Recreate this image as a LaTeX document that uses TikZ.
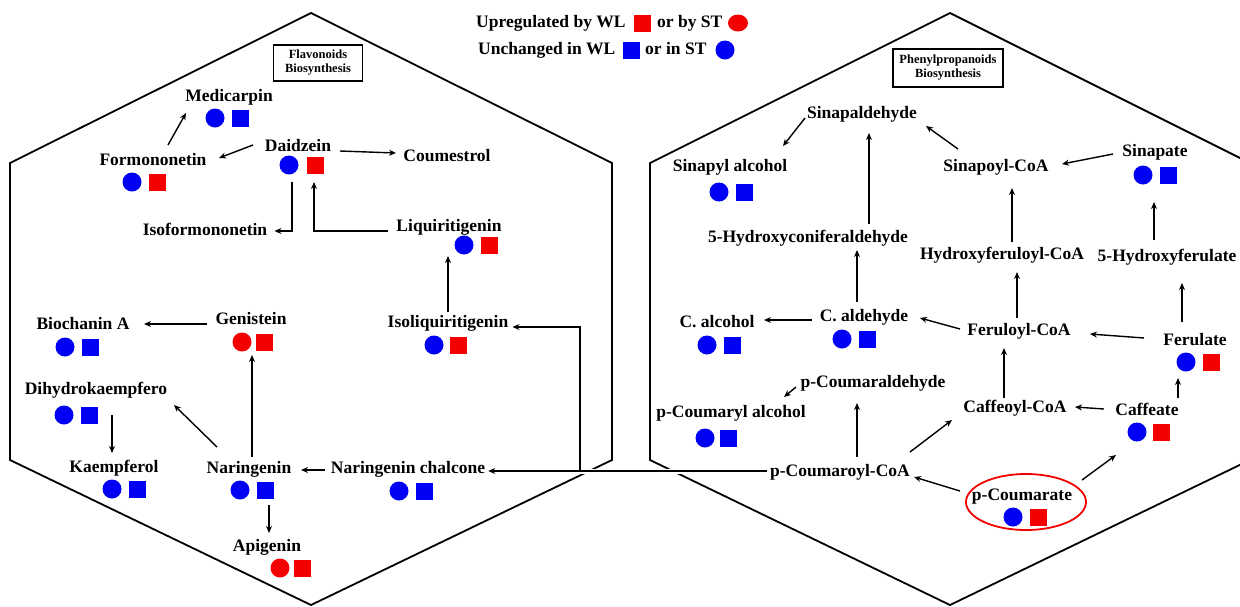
\documentclass[tikz,border=0pt]{standalone}
\usepackage{fontspec}
\setmainfont{Liberation Serif}
\usetikzlibrary{arrows.meta,calc,shapes.geometric}
\definecolor{mblue}{RGB}{0,0,245}
\definecolor{mred}{RGB}{245,0,0}
\tikzset{
 lbl/.style={font=\fontsize{17.5}{20}\selectfont\bfseries, inner sep=0pt, text height=12pt, text depth=4pt},
 mk/.style={inner sep=0pt, draw=none},
 bc/.style={mk, circle, fill=mblue, minimum size=19pt},
 rc/.style={mk, circle, fill=mred, minimum size=19pt},
 bs/.style={mk, rectangle, fill=mblue, minimum size=17pt},
 rs/.style={mk, rectangle, fill=mred, minimum size=17pt},
 arr/.style={-{Stealth[length=7pt,width=6pt]}, line width=1.4pt},
 hex/.style={line width=1.8pt, line join=miter},
 titlebox/.style={draw, line width=1.2pt, font=\fontsize{12.5}{14}\selectfont\bfseries, align=center, inner sep=3pt},
}
\begin{document}
\begin{tikzpicture}[x=1pt,y=-1pt]
\useasboundingbox (0,0) rectangle (1240,606);
\clip (0,0) rectangle (1240,606);
\fill[white] (0,0) rectangle (1240,606);

% hexagons
\draw[hex] (10,163) -- (311,13) -- (612,163) -- (612,460) -- (311,605) -- (10,460) -- cycle;
\draw[hex] (650,163) -- (950,13) -- (1250,163) -- (1250,460) -- (950,605) -- (650,460) -- cycle;

% legend
\node[lbl, anchor=west] (lg1) at (476,23) {Upregulated by WL};
\node[rs] (lg1s) at (642,23) {};
\node[lbl, anchor=west] (lg1b) at (657,23) {or by ST};
\node[mk, ellipse, fill=mred, minimum width=20pt, minimum height=17pt] (lg1c) at (738,23) {};
\node[lbl, anchor=west] (lg2) at (478,50) {Unchanged in WL};
\node[bs] (lg2s) at (631,50) {};
\node[lbl, anchor=west] (lg2b) at (645,50) {or in ST};
\node[bc] (lg2c) at (725,50) {};

% title boxes
\node[titlebox, minimum width=89pt, minimum height=36pt] (fbox) at (318,63) {Flavonoids\\Biosynthesis};
\node[titlebox, minimum width=110pt, minimum height=38pt] (pbox) at (948,68) {Phenylpropanoids\\Biosynthesis};

% ---------- flavonoids ----------
\node[lbl] (medi) at (229,97) {Medicarpin};
\node[bc] (medi-c) at (215,118) {}; \node[bs] (medi-s) at (240,118) {};
\node[lbl] (form) at (153,161) {Formononetin};
\node[bc] (form-c) at (132,182) {}; \node[rs] (form-s) at (157,182) {};
\node[lbl] (daid) at (298,147) {Daidzein};
\node[bc] (daid-c) at (289,165) {}; \node[rs] (daid-s) at (315,165) {};
\node[lbl] (coum) at (447,157) {Coumestrol};
\node[lbl] (isof) at (205,231) {Isoformononetin};
\node[lbl] (liqu) at (449,227) {Liquiritigenin};
\node[bc] (liqu-c) at (464,245) {}; \node[rs] (liqu-s) at (489,245) {};
\node[lbl] (bioc) at (83,325) {Biochanin A};
\node[bc] (bioc-c) at (65,347) {}; \node[bs] (bioc-s) at (90,347) {};
\node[lbl] (geni) at (251,320) {Genistein};
\node[rc] (geni-c) at (242,342) {}; \node[rs] (geni-s) at (264,342) {};
\node[lbl] (isol) at (448,323) {Isoliquiritigenin};
\node[bc] (isol-c) at (434,345) {}; \node[rs] (isol-s) at (458,345) {};
\node[lbl] (dihy) at (96,390) {Dihydrokaempfero};
\node[bc] (dihy-c) at (64,415) {}; \node[bs] (dihy-s) at (89,415) {};
\node[lbl] (kaem) at (114,468) {Kaempferol};
\node[bc] (kaem-c) at (112,489) {}; \node[bs] (kaem-s) at (137,489) {};
\node[lbl] (nari) at (249,469) {Naringenin};
\node[bc] (nari-c) at (240,490) {}; \node[bs] (nari-s) at (265,490) {};
\node[lbl] (chal) at (408,469) {Naringenin chalcone};
\node[bc] (chal-c) at (399,491) {}; \node[bs] (chal-s) at (424,491) {};
\node[lbl] (apig) at (267,547) {Apigenin};
\node[rc] (apig-c) at (280,568) {}; \node[rs] (apig-s) at (302,568) {};

% ---------- phenylpropanoids ----------
\node[lbl] (sinald) at (862,114) {Sinapaldehyde};
\node[lbl] (sinalc) at (730,167) {Sinapyl alcohol};
\node[bc] (sinalc-c) at (719,192) {}; \node[bs] (sinalc-s) at (744,192) {};
\node[lbl] (sinco) at (996,167) {Sinapoyl-CoA};
\node[lbl] (sinate) at (1155,152) {Sinapate};
\node[bc] (sinate-c) at (1143,175) {}; \node[bs] (sinate-s) at (1168,175) {};
\node[lbl] (hcald) at (808,238) {5-Hydroxyconiferaldehyde};
\node[lbl] (hfco) at (1002,255) {Hydroxyferuloyl-CoA};
\node[lbl] (hfate) at (1167,257) {5-Hydroxyferulate};
\node[lbl] (calc) at (717,323) {C. alcohol};
\node[bc] (calc-c) at (707,345) {}; \node[bs] (calc-s) at (732,345) {};
\node[lbl] (cald) at (864,317) {C. aldehyde};
\node[bc] (cald-c) at (842,339) {}; \node[bs] (cald-s) at (867,339) {};
\node[lbl] (fco) at (1019,331) {Feruloyl-CoA};
\node[lbl] (ferul) at (1195,341) {Ferulate};
\node[bc] (ferul-c) at (1186,362) {}; \node[rs] (ferul-s) at (1211,362) {};
\node[lbl] (pcald) at (873,383) {p-Coumaraldehyde};
\node[lbl] (pcalc) at (731,413) {p-Coumaryl alcohol};
\node[bc] (pcalc-c) at (705,438) {}; \node[bs] (pcalc-s) at (728,438) {};
\node[lbl] (cco) at (1015,408) {Caffeoyl-CoA};
\node[lbl] (caff) at (1147,411) {Caffeate};
\node[bc] (caff-c) at (1137,432) {}; \node[rs] (caff-s) at (1161,432) {};
\node[lbl] (pcco) at (840,472) {p-Coumaroyl-CoA};
\node[lbl] (pcate) at (1022,496) {p-Coumarate};
\node[bc] (pcate-c) at (1013,517) {}; \node[rs] (pcate-s) at (1038,517) {};
\node[draw=mred, line width=1.8pt, ellipse, minimum width=120pt, minimum height=56pt] (pring) at (1026,502) {};

% ---------- connectors: flavonoids ----------
\draw[arr] ($(form)+(15,-16)$) -- ($(medi)+(-43,16)$);
\draw[arr] ($(daid)+(-45,-2)$) -- ($(form)+(66,-3)$);
\draw[arr] ($(daid)+(42,4)$) -- ($(coum)+(-51,-4)$);
\draw[arr] ($(daid)+(-6,35)$) |- ($(isof.east)+(7,0)$);
\draw[arr] ($(liqu.west)+(-8,4)$) -| ($(daid)+(16,35)$);
\draw[arr] ($(geni)+(-44,4)$) -- ($(bioc)+(61,-1)$);
\draw[arr] ($(nari)+(3,-12)$) -- ($(geni)+(1,35)$);
\draw[arr] ($(nari)+(-32,-22)$) -- ($(dihy)+(78,15)$);
\draw[arr] ($(dihy)+(16,25)$) -- ($(kaem)+(-2,-15)$);
\draw[arr] ($(chal)+(-83,1)$) -- ($(nari)+(52,1)$);
\draw[arr] ($(nari)+(20,36)$) -- ($(apig)+(2,-14)$);
\draw[arr] ($(isol)+(0,-11)$) -- ($(liqu)+(-1,29)$);

% long connector from p-Coumaroyl-CoA
\draw[arr, preaction={draw=white, line width=5pt, arrows=-}] ($(pcco.west)+(-3,-1)$) -- ($(chal.east)+(3,2)$);
\coordinate (br) at (580,471);
\draw[arr] (br) |- ($(isol.east)+(4,4)$);

% ---------- connectors: phenylpropanoids ----------
\draw[arr] ($(sinald)+(-57,4)$) -- ($(sinalc)+(53,-21)$);
\draw[arr] ($(sinco)+(-38,-18)$) -- ($(sinald)+(64,12)$);
\draw[arr] ($(sinate)+(-42,2)$) -- ($(sinco)+(66,-3)$);
\draw[arr] ($(hcald)+(61,-14)$) -- ($(sinald)+(7,19)$);
\draw[arr] ($(hfco)+(10,-13)$) -- ($(sinco)+(16,21)$);
\draw[arr] ($(hfate)+(-13,-17)$) -- ($(sinate)+(-1,50)$);
\draw[arr] ($(cald)+(-52,3)$) -- ($(calc)+(47,-3)$);
\draw[arr] ($(cald)+(-7,-15)$) -- ($(hcald)+(49,12)$);
\draw[arr] ($(fco)+(-59,-2)$) -- ($(cald)+(56,1)$);
\draw[arr] ($(fco)+(-2,-13)$) -- ($(hfco)+(15,17)$);
\draw[arr] ($(ferul)+(-51,-3)$) -- ($(fco)+(71,3)$);
\draw[arr] ($(ferul)+(-13,-19)$) -- ($(hfate)+(15,26)$);
\draw[arr] ($(cco)+(-11,-10)$) -- ($(fco)+(-15,17)$);
\draw[arr] ($(caff)+(-43,-2)$) -- ($(cco)+(60,-1)$);
\draw[arr] ($(caff)+(31,-13)$) -- ($(ferul)+(-17,37)$);
\draw[arr] ($(pcco)+(17,-15)$) -- ($(pcald)+(-16,20)$);
\draw[arr] ($(pcald)+(-77,4)$) -- ($(pcalc)+(53,-16)$);
\draw[arr] ($(pcco)+(70,-20)$) -- ($(cco)+(-63,12)$);
\draw[arr] ($(pcate)+(-62,-5)$) -- ($(pcco)+(74,5)$);
\draw[arr] ($(pcate)+(60,-16)$) -- ($(caff)+(-31,44)$);
\end{tikzpicture}
\end{document}
